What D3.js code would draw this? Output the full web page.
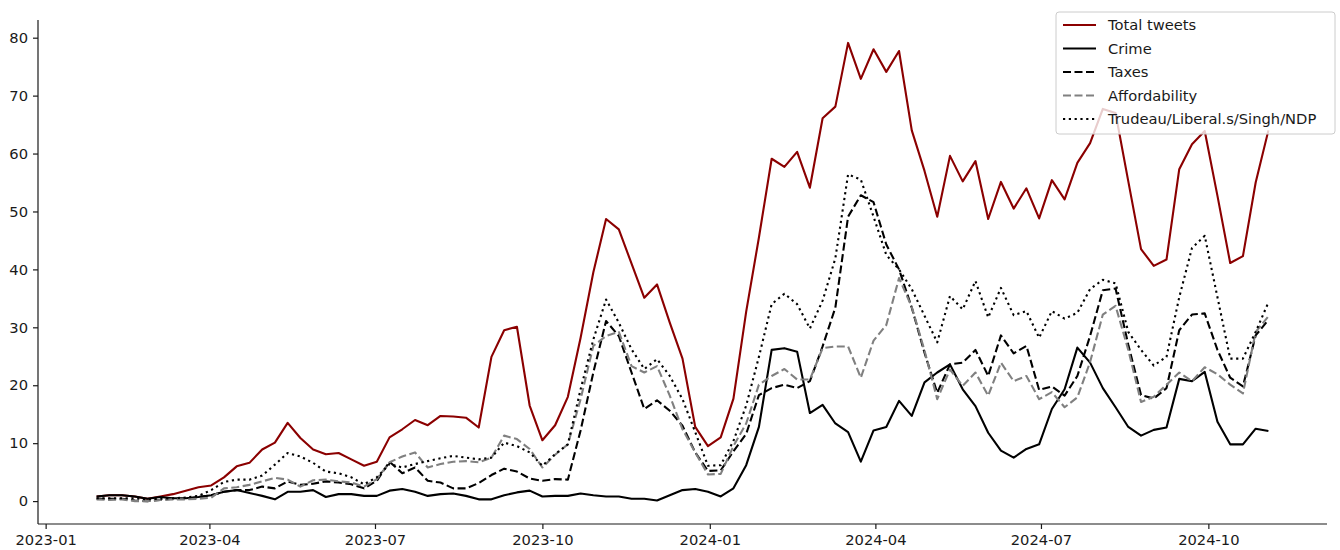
<!DOCTYPE html>
<html>
<head>
<meta charset="utf-8">
<script src="https://cdn.jsdelivr.net/npm/d3@7"></script>
<style>
  html, body { margin: 0; padding: 0; background: #fff; }
  svg { display: block; font-family: "DejaVu Sans", sans-serif; }
</style>
</head>
<body>
<svg id="chart" width="1340" height="550"></svg>
<script>
// ---- data (weekly) ----
const dates = [
"2023-01-29","2023-02-05","2023-02-12","2023-02-19","2023-02-26","2023-03-05","2023-03-12","2023-03-19","2023-03-26","2023-04-02",
"2023-04-09","2023-04-16","2023-04-23","2023-04-30","2023-05-07","2023-05-14","2023-05-21","2023-05-28","2023-06-04","2023-06-11",
"2023-06-18","2023-06-25","2023-07-02","2023-07-09","2023-07-16","2023-07-23","2023-07-30","2023-08-06","2023-08-13","2023-08-20",
"2023-08-27","2023-09-03","2023-09-10","2023-09-17","2023-09-24","2023-10-01","2023-10-08","2023-10-15","2023-10-22","2023-10-29",
"2023-11-05","2023-11-12","2023-11-19","2023-11-26","2023-12-03","2023-12-10","2023-12-17","2023-12-24","2023-12-31","2024-01-07",
"2024-01-14","2024-01-21","2024-01-28","2024-02-04","2024-02-11","2024-02-18","2024-02-25","2024-03-03","2024-03-10","2024-03-17",
"2024-03-24","2024-03-31","2024-04-07","2024-04-14","2024-04-21","2024-04-28","2024-05-05","2024-05-12","2024-05-19","2024-05-26",
"2024-06-02","2024-06-09","2024-06-16","2024-06-23","2024-06-30","2024-07-07","2024-07-14","2024-07-21","2024-07-28","2024-08-04",
"2024-08-11","2024-08-18","2024-08-25","2024-09-01","2024-09-08","2024-09-15","2024-09-22","2024-09-29","2024-10-06","2024-10-13",
"2024-10-20","2024-10-27","2024-11-03"
];

const totalTweets = [
0.8, 1.0, 1.0, 0.8, 0.4, 0.8, 1.2, 1.8, 2.4, 2.7,
4.1, 6.0, 6.6, 8.9, 10.1, 13.5, 10.9, 8.9, 8.1, 8.3,
7.2, 6.1, 6.8, 11.0, 12.4, 14.0, 13.1, 14.7, 14.6, 14.4,
12.7, 24.9, 29.5, 30.1, 16.5, 10.5, 13.1, 18.0, 28.2, 39.5,
48.7, 46.9, 41.0, 35.1, 37.4, 30.8, 24.6, 12.8, 9.5, 11.0,
17.7, 32.7, 45.5, 59.1, 57.7, 60.3, 54.1, 66.1, 68.1, 79.1,
72.9, 78.0, 74.1, 77.7, 64.0, 57.0, 49.1, 59.6, 55.2, 58.7,
48.7, 55.1, 50.5, 54.0, 48.8, 55.4, 52.1, 58.4, 61.8, 67.7,
67.0, 55.2, 43.5, 40.6, 41.7, 57.3, 61.6, 63.9, 52.7, 41.1,
42.3, 55.0, 64.0
];

const crime = [
0.8, 1.0, 1.0, 0.8, 0.4, 0.7, 0.5, 0.5, 0.7, 1.0,
1.6, 1.9, 1.4, 0.9, 0.3, 1.6, 1.6, 1.9, 0.7, 1.2,
1.2, 0.9, 0.9, 1.8, 2.1, 1.6, 0.9, 1.2, 1.3, 0.9,
0.3, 0.3, 1.0, 1.5, 1.8, 0.8, 0.9, 0.9, 1.3, 1.0,
0.8, 0.8, 0.4, 0.4, 0.1, 1.0, 1.9, 2.1, 1.6, 0.8,
2.2, 6.2, 12.8, 26.1, 26.4, 25.8, 15.2, 16.6, 13.4, 11.9,
6.8, 12.2, 12.8, 17.3, 14.7, 20.5, 22.2, 23.6, 19.3, 16.4,
11.8, 8.7, 7.5, 9.0, 9.8, 15.9, 19.3, 26.5, 23.9, 19.5,
16.2, 12.8, 11.3, 12.3, 12.7, 21.1, 20.7, 22.3, 13.7, 9.8,
9.8, 12.5, 12.1
];

const taxes = [
0.4, 0.4, 0.4, 0.1, 0.0, 0.2, 0.4, 0.4, 0.7, 1.0,
1.6, 1.9, 1.9, 2.5, 2.2, 3.4, 2.8, 3.0, 3.4, 3.2,
2.9, 2.2, 3.5, 6.8, 4.8, 5.8, 3.5, 3.2, 2.2, 2.2,
3.1, 4.5, 5.6, 5.1, 3.9, 3.5, 3.8, 3.7, 12.2, 22.2,
31.1, 28.5, 22.2, 15.9, 17.4, 15.6, 13.0, 8.4, 5.2, 5.3,
8.6, 11.6, 18.3, 19.5, 20.1, 19.5, 20.7, 26.7, 33.4, 49.1,
52.8, 51.6, 44.3, 40.0, 33.4, 25.6, 18.7, 23.6, 23.9, 26.1,
21.6, 28.6, 25.5, 26.8, 19.2, 19.8, 18.2, 21.6, 28.5, 36.4,
36.7, 27.0, 18.3, 17.7, 19.5, 29.5, 32.2, 32.4, 26.1, 21.3,
19.8, 28.6, 31.3
];

const affordability = [
0.3, 0.2, 0.3, 0.0, 0.0, 0.2, 0.3, 0.3, 0.4, 0.6,
2.2, 2.4, 2.8, 3.4, 4.0, 3.7, 2.5, 3.6, 3.7, 3.4,
3.2, 2.5, 3.8, 6.7, 7.7, 8.4, 5.8, 6.4, 6.8, 6.9,
6.7, 7.5, 11.3, 10.7, 9.0, 5.8, 8.0, 9.8, 17.6, 26.8,
28.5, 29.2, 23.3, 22.2, 23.3, 18.2, 12.4, 8.4, 4.6, 4.7,
9.5, 13.4, 20.1, 21.6, 22.8, 21.0, 21.0, 26.4, 26.7, 26.7,
21.3, 27.7, 30.4, 38.5, 33.5, 26.0, 17.6, 22.7, 19.9, 22.2,
18.2, 23.9, 20.7, 21.6, 17.6, 18.8, 16.2, 17.9, 24.0, 32.2,
33.7, 26.1, 17.1, 18.0, 20.1, 22.2, 20.7, 23.1, 21.9, 20.1,
18.6, 29.2, 31.9
];

const trudeau = [
0.5, 0.5, 0.5, 0.5, 0.3, 0.4, 0.5, 0.6, 0.9, 1.9,
3.3, 3.7, 3.7, 4.4, 6.3, 8.3, 7.7, 6.6, 5.1, 4.8,
4.1, 2.9, 4.1, 6.4, 5.8, 6.4, 6.9, 7.4, 7.8, 7.5,
7.2, 7.5, 10.1, 9.5, 8.4, 6.1, 8.1, 9.8, 19.3, 27.9,
34.8, 30.8, 26.2, 22.8, 24.5, 21.6, 17.6, 11.9, 6.1, 6.2,
10.4, 16.5, 24.9, 34.0, 35.8, 34.0, 29.8, 34.6, 41.9, 56.4,
55.5, 49.1, 42.5, 40.0, 36.6, 32.0, 27.4, 35.4, 33.1, 38.0,
31.7, 36.8, 32.1, 32.8, 28.2, 32.8, 31.5, 32.5, 36.6, 38.2,
37.6, 29.2, 26.1, 23.4, 24.9, 35.2, 43.7, 45.8, 35.2, 24.6,
24.6, 29.2, 34.3
];

const seriesNames = ["Total tweets", "Crime", "Taxes", "Affordability", "Trudeau/Liberal.s/Singh/NDP"];
const yTicks = [0, 10, 20, 30, 40, 50, 60, 70, 80];
const xTickLabels = ["2023-01","2023-04","2023-07","2023-10","2024-01","2024-04","2024-07","2024-10"];

(function draw() {
  const styles = [
    { color: "#8b0000", dash: null },
    { color: "#000000", dash: null },
    { color: "#000000", dash: "8,3.5" },
    { color: "#808080", dash: "8,3.5" },
    { color: "#000000", dash: "2.2,3.6" }
  ];
  const allValues = [totalTweets, crime, taxes, affordability, trudeau];

  const parse = d3.utcParse("%Y-%m-%d");
  const parseMonth = d3.utcParse("%Y-%m");
  const xs = dates.map(parse);

  const svg = d3.select("#chart");
  const pLeft = 38, pRight = 1327, pTop = 20, pBottom = 524;

  // matplotlib-like 5% margins
  const [t0, t1] = d3.extent(xs);
  const span = t1 - t0;
  const x = d3.scaleUtc()
    .domain([new Date(+t0 - 0.05 * span), new Date(+t1 + 0.05 * span)])
    .range([pLeft, pRight]);

  const allV = allValues.flat();
  const vmin = d3.min(allV), vmax = d3.max(allV);
  const vspan = vmax - vmin;
  const y = d3.scaleLinear()
    .domain([vmin - 0.05 * vspan, vmax + 0.05 * vspan])
    .range([pBottom, pTop]);

  const fontSize = "14.7px";

  const line = d3.line().x((d, i) => x(xs[i])).y(d => y(d));
  allValues.forEach((vals, k) => {
    svg.append("path")
      .datum(vals)
      .attr("d", line)
      .attr("fill", "none")
      .attr("stroke", styles[k].color)
      .attr("stroke-width", 2.1)
      .attr("stroke-linejoin", "round")
      .attr("stroke-dasharray", styles[k].dash);
  });

  const yAxis = d3.axisLeft(y).tickValues(yTicks).tickSize(5).tickPadding(5).tickSizeOuter(0);
  const gy = svg.append("g").attr("transform", `translate(${pLeft},0)`).call(yAxis);
  const xAxis = d3.axisBottom(x)
    .tickValues(xTickLabels.map(parseMonth))
    .tickFormat(d3.utcFormat("%Y-%m"))
    .tickSize(5).tickPadding(5).tickSizeOuter(0);
  const gx = svg.append("g").attr("transform", `translate(0,${pBottom})`).call(xAxis);

  [gx, gy].forEach(g => {
    g.selectAll("text").attr("font-size", fontSize).attr("font-family", "DejaVu Sans").attr("fill", "#1a1a1a");
    g.selectAll("line").attr("stroke", "#1a1a1a").attr("stroke-width", 1.2);
    g.select(".domain").attr("stroke", "#1a1a1a").attr("stroke-width", 1.2);
  });
  gy.select(".domain").attr("d", `M0,${pTop}V${pBottom}`);
  gx.select(".domain").attr("d", `M${pLeft},0H${pRight}`);
  gx.selectAll("text").attr("dy", "0.78em");

  const lg = svg.append("g").attr("class", "legend");
  lg.append("rect")
    .attr("x", 1056).attr("y", 12).attr("width", 279).attr("height", 122)
    .attr("rx", 3).attr("ry", 3)
    .attr("fill", "#ffffff").attr("fill-opacity", 0.8)
    .attr("stroke", "#cccccc").attr("stroke-width", 1);
  seriesNames.forEach((name, k) => {
    const cy = 25 + k * 23.5;
    lg.append("line")
      .attr("x1", 1063).attr("x2", 1096).attr("y1", cy).attr("y2", cy)
      .attr("stroke", styles[k].color).attr("stroke-width", 2.1)
      .attr("stroke-dasharray", styles[k].dash);
    lg.append("text")
      .attr("x", 1108).attr("y", cy).attr("dy", "0.35em")
      .attr("font-size", fontSize).attr("fill", "#1a1a1a")
      .text(name);
  });
})();
</script>
</body>
</html>
